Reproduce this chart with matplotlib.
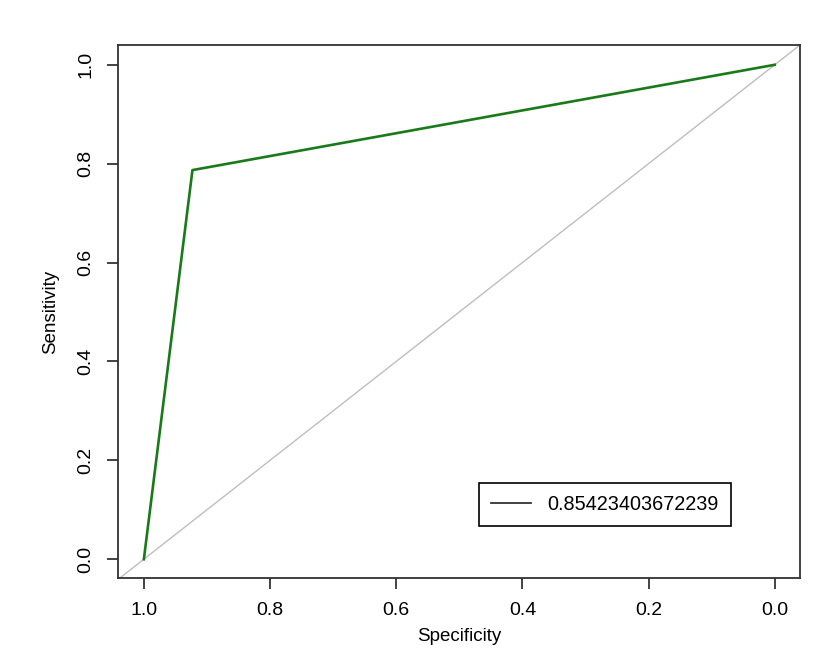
import matplotlib
matplotlib.use("Agg")
import matplotlib.pyplot as plt

plt.rcParams['font.family'] = ['Liberation Sans', 'DejaVu Sans']

# ROC curve points (specificity, sensitivity)
specificity = [1.0, 0.923, 0.0]
sensitivity = [0.0, 0.787, 1.0]
auc_label = "0.85423403672239"
ticks = [0.0, 0.2, 0.4, 0.6, 0.8, 1.0]
tick_labels = ["0.0", "0.2", "0.4", "0.6", "0.8", "1.0"]

W, H = 830, 666
fig = plt.figure(figsize=(W / 100, H / 100), dpi=100)
ax = fig.add_axes([118 / W, (H - 578) / H, 682 / W, 533 / H])

ax.axline((1, 0), (0, 1), color='#bebebe', lw=1.0, zorder=1)
line, = ax.plot(specificity, sensitivity, color='#1a7a1a', lw=1.9, zorder=2)

ax.set_xlim(1.041, -0.040)
ax.set_ylim(-0.038, 1.040)

ax.set_xticks(ticks)
ax.set_xticklabels(tick_labels)
ax.set_yticks(ticks)
ax.set_yticklabels(tick_labels, rotation=90, va='center')
ax.tick_params(axis='both', direction='out', length=8, width=1.2, labelsize=14,
               color='#222222')
ax.tick_params(axis='x', pad=9)
ax.tick_params(axis='y', pad=9)

for s in ax.spines.values():
    s.set_linewidth(1.3)
    s.set_color('#333333')

ax.set_xlabel("Specificity", fontsize=13.5, labelpad=7)
ax.set_ylabel("Sensitivity", fontsize=13.5, labelpad=13)

handle, = ax.plot([], [], color='#333333', lw=1.3)
leg = ax.legend([handle], [auc_label], loc='center',
                bbox_to_anchor=(605 / W, 1 - 504.5 / H),
                bbox_transform=fig.transFigure, fontsize=14.3,
                handlelength=2.0, handletextpad=0.85, borderpad=0.6,
                fancybox=False, framealpha=1, edgecolor='black')
leg.get_frame().set_linewidth(1.2)

fig.savefig("out.png", dpi=100)
